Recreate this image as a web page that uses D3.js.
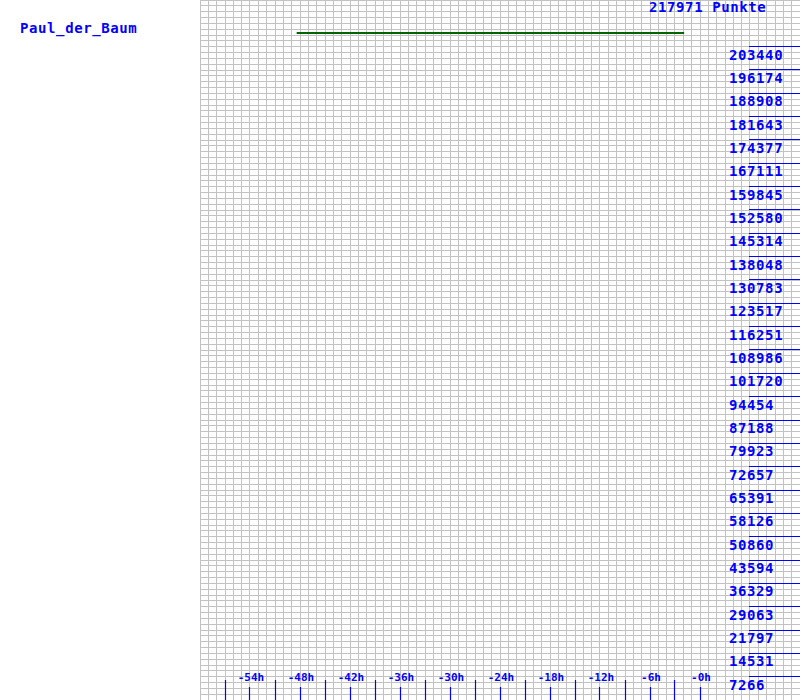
<!DOCTYPE html>
<html>
<head>
<meta charset="utf-8">
<script src="https://cdn.jsdelivr.net/npm/d3@7"></script>
<style>
  html, body { margin: 0; padding: 0; background: #fff; }
  svg { display: block; }
  text { font-family: "DejaVu Sans Mono", "Liberation Mono", monospace; font-weight: bold; fill: #0000ff; }
</style>
</head>
<body>
<script>
// ---- data ----
const playerName = "Paul_der_Baum";
const currentPoints = 217971;
const seriesHours = [-48.4, -36, -24, -12, -1.9];
const seriesPoints = [217971, 217971, 217971, 217971, 217971];
const yTickLabels = [7266, 14531, 21797, 29063, 36329, 43594, 50860, 58126, 65391, 72657,
  79923, 87188, 94454, 101720, 108986, 116251, 123517, 130783, 138048, 145314,
  152580, 159845, 167111, 174377, 181643, 188908, 196174, 203440];
const xLabelHours = [-54, -48, -42, -36, -30, -24, -18, -12, -6, 0];
const xMinorHours = [-57, -51, -45, -39, -33, -27, -21, -15, -9, -3];

// ---- layout ----
const W = 800, H = 700;
const plotLeft = 200, plotRight = 800, plotTop = 0, plotBottom = 700;

const svg = d3.select("body").append("svg").attr("width", W).attr("height", H);

const x = d3.scaleLinear().domain([-60, 12]).range([plotLeft, plotRight]);
const yAxis = d3.scaleLinear().domain([0, currentPoints]).range([plotBottom, plotTop]);
const yLine = d3.scaleLinear().domain([0, currentPoints * 1.05]).range([plotBottom, plotTop]);
const px = v => Math.floor(v) + 0.5;

// grid
const grid = svg.append("g").attr("stroke", "#c2c2c2").attr("stroke-width", 1);
d3.range(-60, 13, 1).forEach(h => {
  grid.append("line").attr("x1", px(x(h))).attr("x2", px(x(h)))
    .attr("y1", plotTop).attr("y2", plotBottom);
});
d3.range(0, 121, 1).forEach(j => {
  const yy = plotBottom - j * (plotBottom - plotTop) / 120;
  grid.append("line").attr("x1", plotLeft).attr("x2", plotRight)
    .attr("y1", px(yy)).attr("y2", px(yy));
});

// right axis ticks + labels
const ra = svg.append("g");
yTickLabels.forEach(v => {
  const yy = px(yAxis(v));
  ra.append("line").attr("x1", 749).attr("x2", 800).attr("y1", yy).attr("y2", yy)
    .attr("stroke", "#0000ff").attr("stroke-width", 1);
  ra.append("text").attr("x", 729).attr("y", yAxis(v) + 13)
    .attr("font-size", 14).attr("letter-spacing", 0.6).text(v);
});

// bottom axis ticks
const ba = svg.append("g");
xMinorHours.forEach(h => {
  ba.append("line").attr("x1", px(x(h))).attr("x2", px(x(h))).attr("y1", 680).attr("y2", 700)
    .attr("stroke", "#0000ff").attr("stroke-width", 1.2);
});
xLabelHours.forEach(h => {
  ba.append("line").attr("x1", px(x(h))).attr("x2", px(x(h))).attr("y1", 687).attr("y2", 700)
    .attr("stroke", "#0000ff").attr("stroke-width", 1.2);
});
xLabelHours.forEach(h => {
  svg.append("text").attr("x", x(h) + 1).attr("y", 681)
    .attr("text-anchor", "middle").attr("font-size", 11).attr("font-weight", "normal")
    .attr("letter-spacing", 0)
    .text((h === 0 ? "-0" : h) + "h");
});

// series line
const line = d3.line().x(d => x(d[0])).y(d => Math.round(yLine(d[1])));
svg.append("path").datum(seriesHours.map((h, i) => [h, seriesPoints[i]]))
  .attr("d", line).attr("fill", "none").attr("stroke", "#006400").attr("stroke-width", 2);

// texts
svg.append("text").attr("x", 20).attr("y", 33).attr("font-size", 14).attr("letter-spacing", 0.6)
  .text(playerName);
svg.append("text").attr("x", 649).attr("y", 12).attr("font-size", 14).attr("letter-spacing", 0.6)
  .text(currentPoints + " Punkte");
</script>
</body>
</html>
